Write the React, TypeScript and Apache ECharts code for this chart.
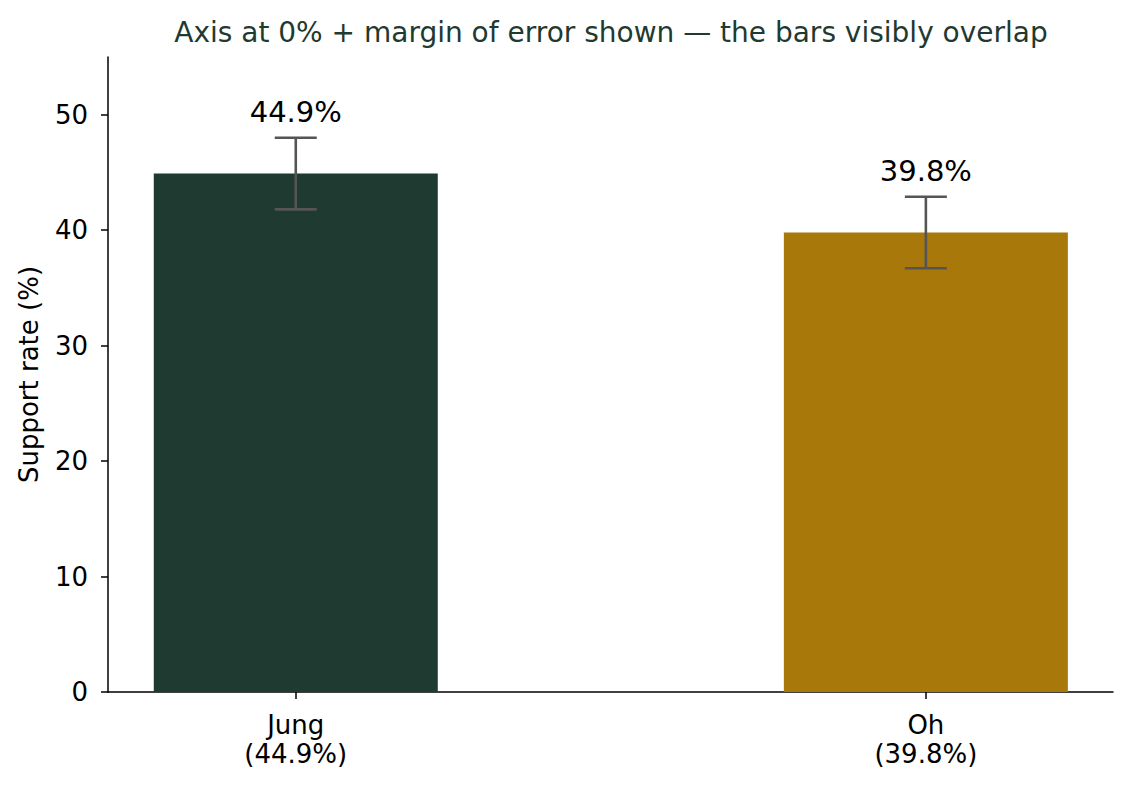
import React, { useEffect, useRef } from "react";
import * as echarts from "echarts";

const candidates = ["Jung", "Oh"];
const supportRates = [44.9, 39.8];
const marginOfError = [3.1, 3.1];
const barColors = ["#1f3a30", "#a8780a"];
const yTicks = [0, 10, 20, 30, 40, 50];
const xPositions = [0, 1];

const FONT = "DejaVu Sans";

export default function App() {
  const ref = useRef<HTMLDivElement>(null);
  useEffect(() => {
    document.body.style.margin = "0";
    if (!ref.current) return;
    const chart = echarts.init(ref.current, null, { renderer: "svg" });
    const barData = xPositions.map((x, i) => ({
      value: [x, supportRates[i]],
      itemStyle: { color: barColors[i] },
    }));
    const errData = xPositions.map((x, i) => [
      x,
      supportRates[i] - marginOfError[i],
      supportRates[i] + marginOfError[i],
      supportRates[i],
    ]);
    chart.setOption({
      animation: false,
      textStyle: { fontFamily: FONT },
      title: {
        text: "Axis at 0% + margin of error shown — the bars visibly overlap",
        left: 606,
        textAlign: "center",
        top: 13,
        textStyle: { fontFamily: FONT, fontSize: 28, fontWeight: "normal", color: "#1f3a30" },
      },
      grid: { left: 108, right: 19, top: 57, bottom: 95, containLabel: false },
      xAxis: {
        type: "value",
        min: -0.298,
        max: 1.297,
        splitLine: { show: false },
        axisLine: { show: true, onZero: false, lineStyle: { color: "#000", width: 1.5 } },
        axisTick: { show: true, length: 7, lineStyle: { color: "#000", width: 1.5 }, customValues: xPositions },
        axisLabel: {
          customValues: xPositions,
          margin: 18,
          fontFamily: FONT,
          fontSize: 26,
          lineHeight: 29,
          color: "#000",
          formatter: (v: number) => {
            const i = Math.round(v);
            return `${candidates[i]}\n(${supportRates[i].toFixed(1)}%)`;
          },
        },
      },
      yAxis: {
        type: "value",
        min: 0,
        max: 55,
        name: "Support rate (%)",
        nameLocation: "middle",
        nameGap: 66,
        nameTextStyle: { fontFamily: FONT, fontSize: 26, color: "#000" },
        splitLine: { show: false },
        axisLine: { show: true, onZero: false, lineStyle: { color: "#000", width: 1.5 } },
        axisTick: { show: true, length: 7, lineStyle: { color: "#000", width: 1.5 }, customValues: yTicks },
        axisLabel: { customValues: yTicks, margin: 20, fontFamily: FONT, fontSize: 26, color: "#000" },
      },
      series: [
        {
          type: "bar",
          data: barData,
          barWidth: 284,
        },
        {
          type: "custom",
          data: errData,
          z: 10,
          renderItem: (params: any, api: any) => {
            const x = api.value(0);
            const lo = api.coord([x, api.value(1)]);
            const hi = api.coord([x, api.value(2)]);
            const v = api.value(3);
            const cap = 21;
            const style = { stroke: "#555555", lineWidth: 2.6 };
            return {
              type: "group",
              children: [
                { type: "line", shape: { x1: lo[0], y1: lo[1], x2: hi[0], y2: hi[1] }, style },
                { type: "line", shape: { x1: lo[0] - cap, y1: lo[1], x2: lo[0] + cap, y2: lo[1] }, style },
                { type: "line", shape: { x1: hi[0] - cap, y1: hi[1], x2: hi[0] + cap, y2: hi[1] }, style },
                {
                  type: "text",
                  x: hi[0],
                  y: hi[1] - 11,
                  style: {
                    text: `${v.toFixed(1)}%`,
                    fontFamily: FONT,
                    fontSize: 29,
                    fill: "#000",
                    align: "center",
                    verticalAlign: "bottom",
                  },
                },
              ],
            };
          },
        },
      ],
    });
    return () => chart.dispose();
  }, []);
  return <div ref={ref} style={{ width: 1132, height: 787 }} />;
}
